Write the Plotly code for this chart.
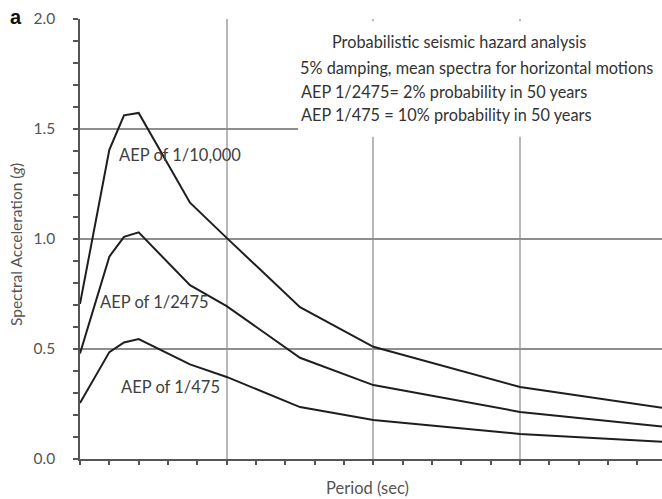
import plotly.graph_objects as go

# Spectral periods (sec) and mean horizontal spectral accelerations (g)
periods = [0.0, 0.2, 0.3, 0.4, 0.75, 1.0, 1.5, 2.0, 3.0, 4.0]
sa_10000 = [0.705, 1.405, 1.562, 1.573, 1.165, 1.005, 0.690, 0.510, 0.327, 0.230]
sa_2475 = [0.480, 0.920, 1.010, 1.030, 0.790, 0.695, 0.460, 0.336, 0.214, 0.145]
sa_475 = [0.255, 0.486, 0.530, 0.545, 0.430, 0.373, 0.236, 0.177, 0.114, 0.077]

series = [
    ("AEP of 1/10,000", sa_10000, 0.68, 1.38),
    ("AEP of 1/2475", sa_2475, 0.51, 0.714),
    ("AEP of 1/475", sa_475, 0.62, 0.327),
]

FONT = "Lato"
LINE = "#1e1e1e"

fig = go.Figure()
for name, vals, lx, ly in series:
    fig.add_trace(go.Scatter(x=periods, y=vals, mode="lines", name=name,
                             line=dict(color=LINE, width=2), showlegend=False))

annotations = []
for name, vals, lx, ly in series:
    annotations.append(dict(x=lx, y=ly, xref="x", yref="y", text=name,
                            xanchor="center", yanchor="middle", showarrow=False,
                            font=dict(family=FONT, size=16.5, color="#404040")))

# Text block in the upper right
W, H, L, T = 662, 499, 80, 19
PW, PH = W - L, 440


def px(x):
    return (x - L) / PW


def py(y):
    return (T + PH - y) / PH


info = [
    ("Probabilistic seismic hazard analysis", 459, 42, "center"),
    ("5% damping, mean spectra for horizontal motions", 298, 67, "left"),
    ("AEP 1/2475= 2% probability in 50 years", 299, 91, "left"),
    ("AEP 1/475 = 10% probability in 50 years", 299, 114, "left"),
]
for txt, x, y, al in info:
    annotations.append(dict(x=px(x), y=py(y), xref="paper", yref="paper", text=txt,
                            xanchor=al, yanchor="middle", showarrow=False,
                            font=dict(family=FONT, size=16.3, color="#333333")))

annotations.append(dict(x=px(16), y=py(245), xref="paper", yref="paper",
                        text="Spectral Acceleration (<i>g</i>)", textangle=-90,
                        xanchor="center", yanchor="middle", showarrow=False,
                        font=dict(family=FONT, size=15.5, color="#555555")))
annotations.append(dict(x=px(367), y=py(488), xref="paper", yref="paper",
                        text="Period (sec)", showarrow=False,
                        xanchor="center", yanchor="middle",
                        font=dict(family=FONT, size=16.5, color="#555555")))
annotations.append(dict(x=px(16), y=py(17), xref="paper", yref="paper",
                        text="<b>a</b>", showarrow=False,
                        xanchor="center", yanchor="middle",
                        font=dict(family="Liberation Sans", size=20, color="#111111")))

fig.update_layout(
    width=W, height=H,
    margin=dict(l=L, r=0, t=T, b=H - T - PH),
    paper_bgcolor="white", plot_bgcolor="white",
    annotations=annotations,
    shapes=[dict(type="rect", xref="x", yref="y", x0=1.487, x1=4.2, y0=1.465, y1=1.99,
                 fillcolor="white", line=dict(width=0), layer="between")],
    xaxis=dict(range=[0, (W - L) / 146.67], dtick=1, tick0=0, showticklabels=False,
               showgrid=True, gridcolor="#b8b8b8", gridwidth=1.5, zeroline=False,
               showline=True, linecolor="#555555", linewidth=1.5,
               ticks="outside", ticklen=4, tickcolor="#555555", tickwidth=1.5,
               minor=dict(dtick=0.2, ticks="outside", ticklen=4, tickcolor="#555555",
                          tickwidth=1.5, showgrid=False)),
    yaxis=dict(range=[0, 2.0], dtick=0.5, tick0=0, tickformat=".1f",
               showgrid=True, gridcolor="#8e8e8e", gridwidth=1.5, zeroline=False,
               showline=True, linecolor="#555555", linewidth=1.5,
               ticks="outside", ticklen=5, tickcolor="#555555", tickwidth=1.5,
               ticklabelstandoff=15,
               tickfont=dict(family=FONT, size=15.5, color="#555555"),
               minor=dict(dtick=0.1, ticks="outside", ticklen=5, tickcolor="#555555",
                          tickwidth=1.5, showgrid=False)),
)

fig.write_html("out.html")
